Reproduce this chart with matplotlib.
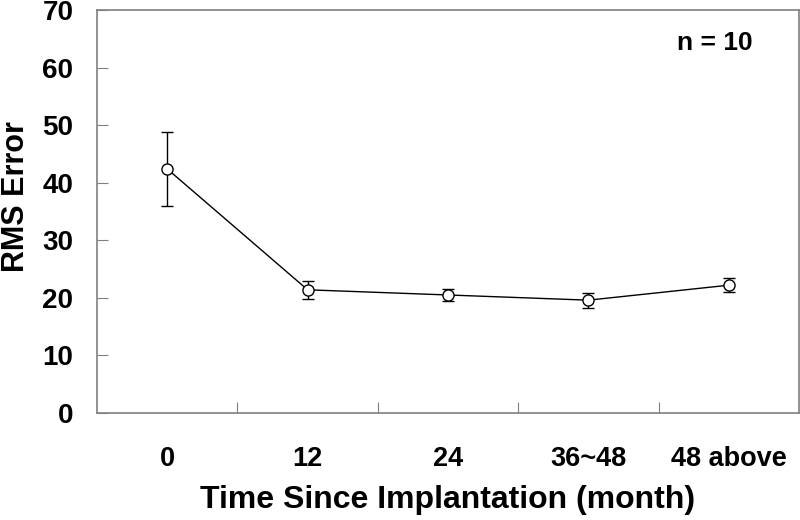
import numpy as np
import matplotlib.pyplot as plt

plt.rcParams['font.family'] = ['Liberation Sans', 'DejaVu Sans']

categories = ['0', '12', '24', '36~48', '48 above']
rms_error = [42.4, 21.4, 20.5, 19.6, 22.2]
rms_sd = [6.4, 1.6, 1.1, 1.3, 1.2]

fig = plt.figure(figsize=(8, 5.2), dpi=100)
ax = fig.add_axes([97/800, 1 - 413/520, 702/800, 403/520])

x = np.arange(len(categories))
ax.errorbar(x, rms_error, yerr=rms_sd, color='black', lw=1.0, elinewidth=1.0,
            capsize=4, capthick=1.0, marker='o', markersize=8,
            markerfacecolor='white', markeredgecolor='black', markeredgewidth=1.0)

ax.set_xlim(-0.5, len(categories) - 0.5)
ax.set_ylim(0, 70)

# ticks between categories, labels at the centres
ax.set_xticks(np.arange(len(categories) - 1) + 0.5)
ax.set_xticklabels([])
ax.set_xticks(x, minor=True)
ax.set_xticklabels(categories, minor=True, fontsize=19.5, fontweight='bold')
ax.tick_params(axis='x', which='major', direction='in', length=8, color='#808080')
ax.tick_params(axis='x', which='minor', length=0, pad=24)

ax.set_yticks(np.arange(0, 71, 10))
ax.set_yticklabels([str(v) for v in range(0, 71, 10)], fontsize=20, fontweight='bold')
ax.tick_params(axis='y', direction='in', length=8, color='#808080', pad=17)

for s in ax.spines.values():
    s.set_color('#808080')
    s.set_linewidth(1.2)

ax.set_ylabel('RMS Error', fontsize=22, fontweight='bold')
ax.yaxis.set_label_coords(-0.094, 0.538)
ax.set_xlabel('Time Since Implantation (month)', fontsize=23, fontweight='bold', labelpad=9)

ax.text(0.88, 0.918, 'n = 10', transform=ax.transAxes, fontsize=19, fontweight='bold',
        ha='center', va='center')

fig.savefig('out.png', dpi=100)
